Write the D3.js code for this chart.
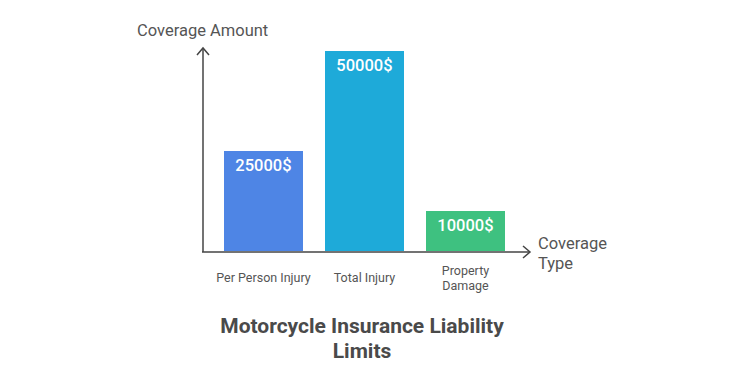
<!DOCTYPE html>
<html>
<head>
<meta charset="utf-8">
<script src="https://cdn.jsdelivr.net/npm/d3@7"></script>
<style>
  body { margin: 0; background: #fff; }
  svg { font-family: Roboto, "Noto Sans", sans-serif; }
</style>
</head>
<body>
<svg id="chart" width="750" height="375"></svg>
<script>
// data
var categories = ["Per Person Injury", "Total Injury", "Property Damage"];
var values = [25000, 50000, 10000];
var valueLabels = ["25000$", "50000$", "10000$"];
var barColors = ["#4e85e5", "#1eaad9", "#3ec180"];

var svg = d3.select("#chart");

var x = d3.scaleBand()
    .domain(categories)
    .range([203, 526])
    .paddingInner(0.218)
    .paddingOuter(0.208);

var y = d3.scaleLinear()
    .domain([0, 50000])
    .range([251, 51]);

// bars
svg.append("g").selectAll("rect")
    .data(categories)
    .enter()
    .append("rect")
    .attr("x", function(d) { return x(d); })
    .attr("y", function(d, i) { return y(values[i]); })
    .attr("width", x.bandwidth())
    .attr("height", function(d, i) { return y(0) - y(values[i]); })
    .attr("fill", function(d, i) { return barColors[i]; });

// value labels inside bars
svg.append("g").selectAll("text")
    .data(categories)
    .enter()
    .append("text")
    .attr("x", function(d) { return x(d) + x.bandwidth() / 2; })
    .attr("y", function(d, i) { return y(values[i]) + 20; })
    .attr("text-anchor", "middle")
    .attr("font-size", 16.5)
    .attr("font-weight", 500)
    .attr("fill", "#fff")
    .text(function(d, i) { return valueLabels[i]; });

// axes with arrows
var axisColor = "#444";
svg.append("line")
    .attr("x1", 203).attr("y1", 252)
    .attr("x2", 203).attr("y2", 48)
    .attr("stroke", axisColor).attr("stroke-width", 1.5);
svg.append("path")
    .attr("d", "M197,55L203,48L209,55")
    .attr("fill", "none").attr("stroke", axisColor).attr("stroke-width", 1.5);

svg.append("line")
    .attr("x1", 202).attr("y1", 252)
    .attr("x2", 530).attr("y2", 252)
    .attr("stroke", axisColor).attr("stroke-width", 1.5);
svg.append("path")
    .attr("d", "M523,246L530,252L523,258")
    .attr("fill", "none").attr("stroke", axisColor).attr("stroke-width", 1.5);

// category labels
svg.append("g").selectAll("text")
    .data(categories)
    .enter()
    .append("text")
    .attr("x", function(d) { return x(d) + x.bandwidth() / 2; })
    .attr("y", 282)
    .attr("text-anchor", "middle")
    .attr("font-size", 12.5)
    .attr("fill", "#555")
    .each(function(d) {
        var t = d3.select(this);
        if (d == "Property Damage") {
            t.append("tspan").attr("x", x(d) + x.bandwidth() / 2).attr("dy", -7).text("Property");
            t.append("tspan").attr("x", x(d) + x.bandwidth() / 2).attr("dy", 15).text("Damage");
        } else {
            t.text(d);
        }
    });

// axis titles
svg.append("text")
    .attr("x", 137).attr("y", 36)
    .attr("font-size", 16.5).attr("fill", "#555")
    .text("Coverage Amount");

svg.append("text")
    .attr("x", 538).attr("y", 249)
    .attr("font-size", 16.5).attr("fill", "#555")
    .text("Coverage");
svg.append("text")
    .attr("x", 538).attr("y", 269)
    .attr("font-size", 16.5).attr("fill", "#555")
    .text("Type");

// chart title
svg.append("text")
    .attr("x", 362).attr("y", 333)
    .attr("text-anchor", "middle")
    .attr("font-size", 21).attr("font-weight", "bold").attr("fill", "#4a4a4a")
    .text("Motorcycle Insurance Liability");
svg.append("text")
    .attr("x", 362).attr("y", 358)
    .attr("text-anchor", "middle")
    .attr("font-size", 21).attr("font-weight", "bold").attr("fill", "#4a4a4a")
    .text("Limits");
</script>
</body>
</html>
